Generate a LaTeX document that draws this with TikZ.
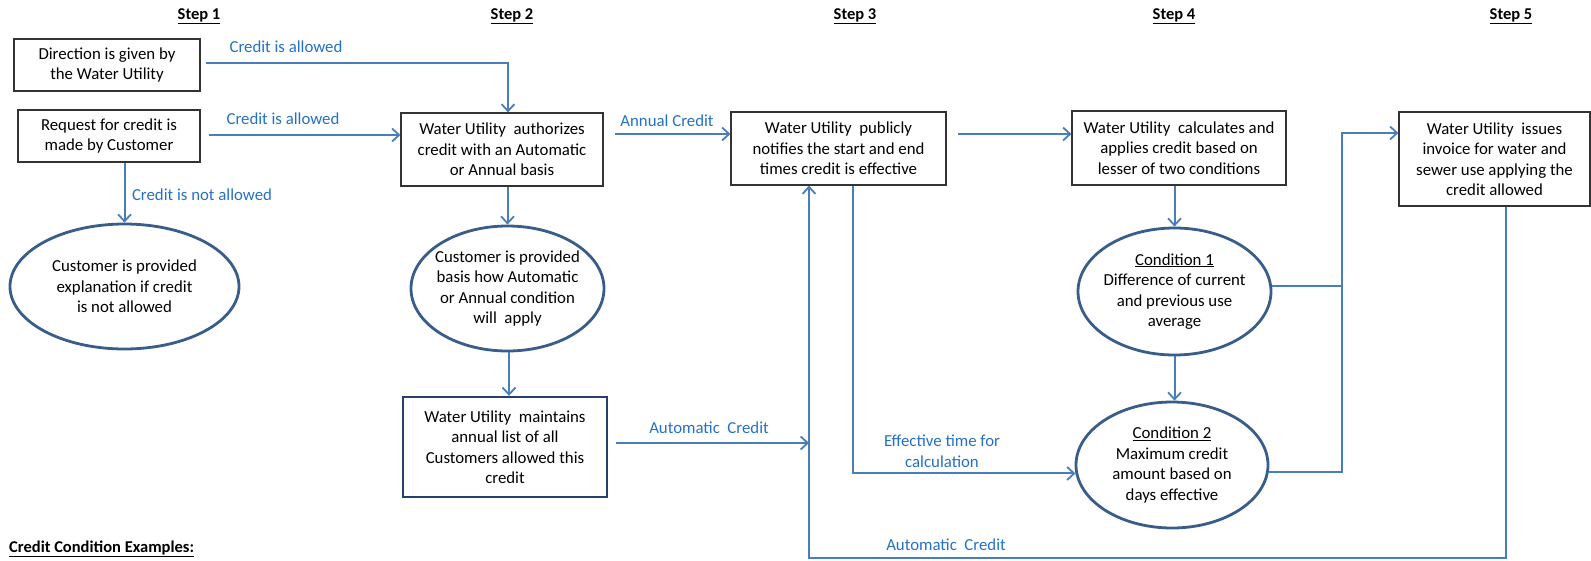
\documentclass[tikz,border=0pt]{standalone}
\usepackage{fontspec}
\setmainfont{Carlito}
\usetikzlibrary{arrows.meta,shapes.geometric}
\definecolor{lineblue}{RGB}{74,126,187}
\definecolor{ovalblue}{RGB}{56,93,138}
\definecolor{darkblue}{RGB}{38,64,110}
\definecolor{lblblue}{RGB}{36,113,196}
\begin{document}
\begin{tikzpicture}[x=1pt,y=-1pt,
  every node/.style={font=\fontsize{16.8}{20.5}\selectfont},
  box/.style={draw=black!80,line width=1.2pt,align=center,inner sep=0pt},
  oval/.style={ellipse,draw=ovalblue,line width=2.8pt,inner sep=0pt},
  txt/.style={align=center,inner sep=0pt},
  conn/.style={draw=lineblue,line width=2pt,-{Straight Barb[length=7pt,width=13pt,line width=1.8pt]}},
  plain/.style={draw=lineblue,line width=2pt},
  lbl/.style={text=lblblue,inner sep=0pt,align=center},
  steplbl/.style={font=\fontsize{16.5}{19}\selectfont\bfseries,inner sep=0pt}]
\useasboundingbox (0,0) rectangle (1591,560);

% step headings
\node[steplbl] (s1) at (199,16) {\underline{Step 1}};
\node[steplbl] (s2) at (512,16) {\underline{Step 2}};
\node[steplbl] (s3) at (855,16) {\underline{Step 3}};
\node[steplbl] (s4) at (1174,16) {\underline{Step 4}};
\node[steplbl] (s5) at (1511,16) {\underline{Step 5}};
\node[steplbl,anchor=west] (ex) at (9,549) {\underline{Credit Condition Examples:}};

% boxes
\node[box,minimum width=186pt,minimum height=52pt] (dir) at (107,65) {Direction is given by\\the Water Utility};
\node[box,minimum width=182pt,minimum height=52pt] (req) at (109,136) {Request for credit is\\made by Customer};
\node[box,minimum width=202pt,minimum height=73pt] (auth) at (502,149.5) {Water Utility~ authorizes\\credit with an Automatic\\or Annual basis};
\node[box,minimum width=215pt,minimum height=73pt] (pub) at (838.5,148.5) {Water Utility~ publicly\\notifies the start and end\\times credit is effective};
\node[box,minimum width=214pt,minimum height=74pt] (calc) at (1179,148) {Water Utility~ calculates and\\applies credit based on\\lesser of two conditions};
\node[box,minimum width=191pt,minimum height=94pt] (iss) at (1494.5,159) {Water Utility~ issues\\invoice for water and\\sewer use applying the\\credit allowed};
\node[box,draw=darkblue,line width=2.4pt,minimum width=204pt,minimum height=100pt] (maint) at (505,447) {Water Utility~ maintains\\annual list of all\\Customers allowed this\\credit};

% ellipses
\node[oval,minimum width=229pt,minimum height=125pt] (e1) at (124.5,286.5) {};
\node[txt] (e1t) at (e1.center) {Customer is provided\\explanation if credit\\is not allowed};
\node[oval,minimum width=193pt,minimum height=125pt] (e2) at (507.5,288.5) {};
\node[txt] (e2t) at (e2.center) {Customer is provided\\basis how Automatic\\or Annual condition\\will~ apply};
\node[oval,minimum width=193pt,minimum height=127pt] (c1) at (1174.5,291.5) {};
\node[txt] (c1t) at (c1.center) {\underline{Condition 1}\\Difference of current\\and previous use\\average};
\node[oval,minimum width=192pt,minimum height=126pt] (c2) at (1172,465) {};
\node[txt] (c2t) at (c2.center) {\underline{Condition 2}\\Maximum credit\\amount based on\\days effective};

% helper coordinates
\coordinate (loopbl) at (809,558);
\coordinate (jt) at (1342,133);

% connectors
\draw[conn,shorten <=5pt] ([yshift=2pt]dir.east) -| ([xshift=6pt]auth.north);
\draw[conn,shorten <=8pt] ([yshift=1pt]req.east) -- ([yshift=1pt]req.east -| auth.west);
\draw[conn] (e1.north |- req.south) -- (e1.north);
\draw[conn,shorten <=11pt] ([yshift=15.5pt]auth.east) -- ([yshift=15.5pt]auth.east -| pub.west);
\draw[conn] (e2.north |- auth.south) -- (e2.north);
\draw[conn] ([xshift=1.5pt]e2.south) -- ([xshift=1.5pt]e2.south |- maint.north);
\draw[conn,shorten <=8pt] ([yshift=4pt]maint.east) -- ([yshift=4pt]maint.east -| loopbl);
\draw[conn] ([xshift=11.5pt]iss.south) |- (loopbl) -- (loopbl |- pub.south);
\draw[conn,shorten <=11pt] ([yshift=14.5pt]pub.east) -- ([yshift=14.5pt]pub.east -| calc.west);
\draw[conn] ([xshift=14.5pt]pub.south) |- (c2.185);
\draw[conn] (c1.north |- calc.south) -- (c1.north);
\draw[conn] (c1.south) -- (c1.south |- c2.north);
\draw[plain] (c1.3) -- (c1.3 -| jt);
\draw[conn] (c2.356) -| (jt) -- ([yshift=26pt]iss.west);

% labels
\node[lbl] (l1) at (286,47) {Credit is allowed};
\node[lbl] (l2) at (283,119) {Credit is allowed};
\node[lbl] (l3) at (202,195) {Credit is not allowed};
\node[lbl] (l4) at (667,121) {Annual Credit};
\node[lbl] (l5) at (709,428) {Automatic~ Credit};
\node[lbl] (l6) at (942,451) {Effective time for\\calculation};
\node[lbl] (l7) at (946,545) {Automatic~ Credit};
\end{tikzpicture}
\end{document}
